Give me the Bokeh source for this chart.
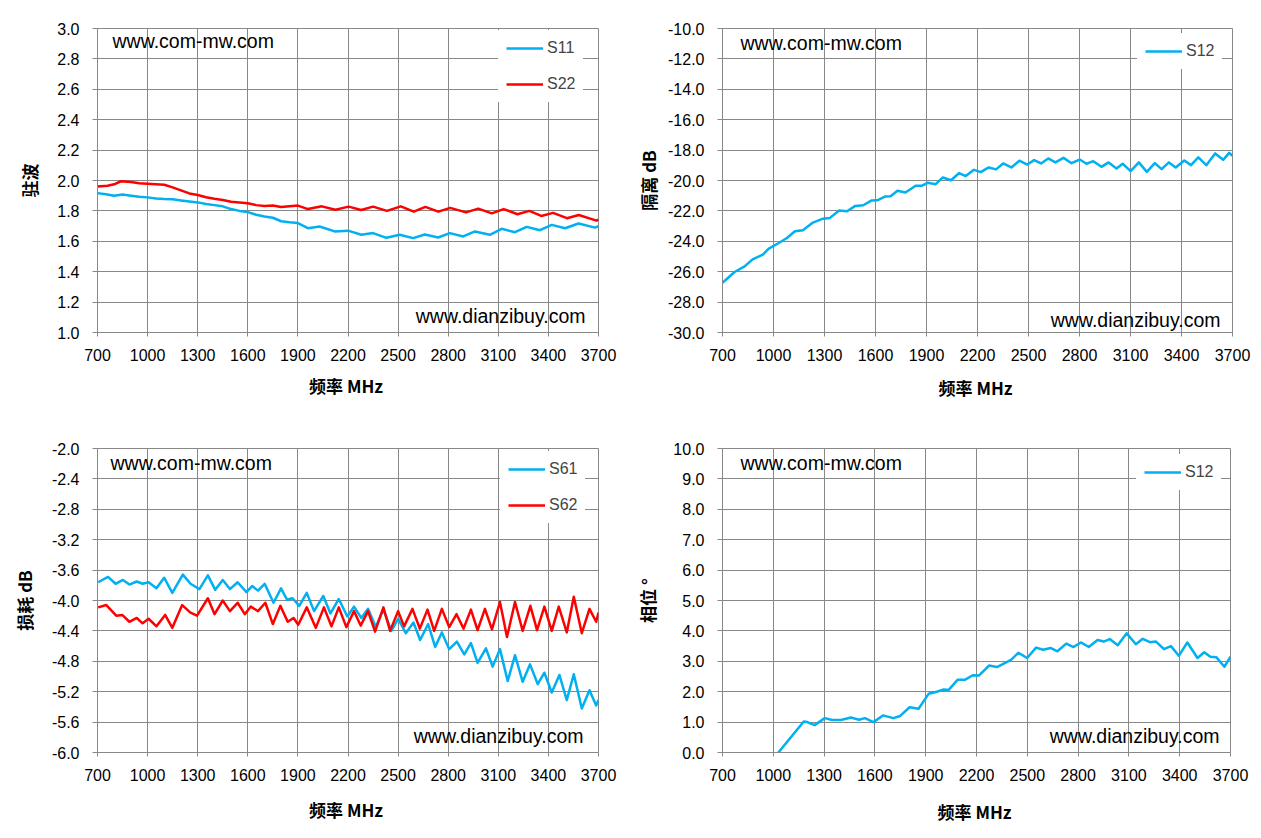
from bokeh.plotting import figure
from bokeh.layouts import column, row
from bokeh.models import Range1d, FixedTicker, NumeralTickFormatter, Label
from bokeh.embed import file_html
from bokeh.resources import INLINE

# frequency ticks (MHz)
freq_ticks = [700, 1000, 1300, 1600, 1900, 2200, 2500, 2800, 3100, 3400, 3700]

# VSWR
s11_mhz = [700, 750, 800, 850, 900, 950, 1000, 1050, 1100, 1150, 1200, 1250, 1300, 1350, 1400,
           1450, 1500, 1550, 1600, 1650, 1700, 1750, 1800, 1850, 1900, 1960, 2030, 2120, 2200,
           2280, 2350, 2430, 2510, 2590, 2660, 2740, 2810, 2890, 2960, 3050, 3120, 3200, 3270,
           3350, 3420, 3500, 3580, 3680, 3700]
s11 = [1.917, 1.91, 1.90, 1.908, 1.90, 1.893, 1.889, 1.882, 1.878, 1.876, 1.869, 1.862, 1.856,
       1.846, 1.838, 1.83, 1.812, 1.80, 1.792, 1.775, 1.763, 1.755, 1.732, 1.725, 1.72, 1.686,
       1.697, 1.665, 1.67, 1.643, 1.654, 1.623, 1.643, 1.621, 1.645, 1.625, 1.654, 1.632, 1.665,
       1.643, 1.682, 1.66, 1.695, 1.673, 1.708, 1.686, 1.717, 1.69, 1.70]
s22_mhz = [700, 760, 800, 840, 900, 950, 1000, 1050, 1100, 1150, 1200, 1250, 1300, 1350, 1400,
           1450, 1500, 1550, 1600, 1650, 1700, 1750, 1800, 1850, 1900, 1960, 2043, 2125, 2204,
           2279, 2350, 2433, 2516, 2594, 2663, 2741, 2812, 2907, 2980, 3061, 3132, 3215, 3286,
           3357, 3428, 3511, 3582, 3688, 3700]
s22 = [1.96, 1.965, 1.975, 1.995, 1.99, 1.982, 1.978, 1.975, 1.972, 1.955, 1.935, 1.915, 1.905,
       1.89, 1.88, 1.872, 1.86, 1.855, 1.85, 1.838, 1.833, 1.835, 1.825, 1.83, 1.835, 1.812,
       1.83, 1.808, 1.828, 1.806, 1.828, 1.80, 1.83, 1.795, 1.826, 1.795, 1.82, 1.79, 1.815,
       1.784, 1.812, 1.778, 1.80, 1.767, 1.787, 1.752, 1.773, 1.736, 1.743]

# isolation S12 (dB)
iso_mhz = [700, 771, 830, 877, 937, 972, 1031, 1079, 1126, 1173, 1232, 1291, 1332, 1386, 1433,
           1481, 1528, 1575, 1611, 1658, 1689, 1729, 1776, 1836, 1871, 1907, 1954, 1996, 2044,
           2091, 2131, 2179, 2219, 2266, 2309, 2351, 2399, 2446, 2493, 2533, 2574, 2616, 2658,
           2706, 2753, 2801, 2841, 2881, 2929, 2971, 3018, 3054, 3101, 3149, 3196, 3243, 3283,
           3326, 3366, 3416, 3456, 3499, 3546, 3598, 3645, 3681, 3700]
iso = [-26.73, -26.02, -25.65, -25.19, -24.88, -24.48, -24.11, -23.78, -23.34, -23.27, -22.77,
       -22.51, -22.46, -21.98, -22.02, -21.67, -21.63, -21.32, -21.30, -21.05, -21.03, -20.68,
       -20.79, -20.35, -20.35, -20.15, -20.24, -19.80, -19.98, -19.52, -19.71, -19.30, -19.45,
       -19.14, -19.27, -18.88, -19.14, -18.70, -18.95, -18.66, -18.88, -18.55, -18.81, -18.51,
       -18.86, -18.62, -18.90, -18.73, -19.10, -18.81, -19.21, -18.90, -19.38, -18.81, -19.43,
       -18.86, -19.25, -18.81, -19.14, -18.68, -18.99, -18.48, -18.99, -18.22, -18.64, -18.18,
       -18.37]

# insertion loss (dB)
s61_mhz = [704, 763, 808, 852, 891, 935, 970, 1006, 1053, 1099, 1148, 1211, 1257, 1310, 1361,
           1405, 1450, 1493, 1539, 1592, 1626, 1661, 1701, 1754, 1799, 1835, 1868, 1908, 1953,
           1997, 2052, 2095, 2145, 2196, 2236, 2280, 2320, 2366, 2412, 2460, 2500, 2546, 2592,
           2632, 2680, 2722, 2762, 2806, 2852, 2896, 2936, 2976, 3026, 3066, 3110, 3156, 3200,
           3246, 3290, 3336, 3376, 3420, 3466, 3510, 3552, 3600, 3646, 3686, 3700]
s61 = [-3.76, -3.69, -3.78, -3.73, -3.79, -3.75, -3.78, -3.76, -3.84, -3.70, -3.90, -3.66,
       -3.78, -3.85, -3.67, -3.86, -3.73, -3.85, -3.76, -3.89, -3.81, -3.87, -3.78, -4.03,
       -3.84, -3.99, -3.97, -4.07, -3.90, -4.14, -3.94, -4.17, -3.98, -4.21, -4.08, -4.23,
       -4.11, -4.35, -4.12, -4.40, -4.24, -4.43, -4.29, -4.52, -4.31, -4.61, -4.42, -4.64,
       -4.54, -4.71, -4.56, -4.82, -4.63, -4.87, -4.64, -5.06, -4.72, -5.07, -4.84, -5.10,
       -4.95, -5.21, -4.98, -5.31, -4.97, -5.42, -5.18, -5.38, -5.31]
s62_mhz = [704, 753, 812, 848, 891, 935, 970, 1006, 1053, 1105, 1148, 1207, 1257, 1296, 1361,
           1401, 1450, 1493, 1539, 1582, 1618, 1661, 1705, 1750, 1795, 1839, 1874, 1902, 1953,
           2007, 2056, 2101, 2145, 2190, 2236, 2276, 2320, 2362, 2412, 2452, 2500, 2536, 2586,
           2630, 2676, 2716, 2762, 2806, 2850, 2892, 2936, 2976, 3020, 3062, 3110, 3152, 3200,
           3246, 3292, 3332, 3376, 3420, 3462, 3510, 3552, 3600, 3646, 3686, 3700]
s62 = [-4.09, -4.06, -4.20, -4.19, -4.28, -4.23, -4.30, -4.24, -4.34, -4.19, -4.36, -4.06,
       -4.16, -4.20, -3.97, -4.18, -4.00, -4.14, -4.03, -4.18, -4.08, -4.14, -4.03, -4.31,
       -4.07, -4.28, -4.23, -4.32, -4.09, -4.36, -4.09, -4.34, -4.09, -4.35, -4.14, -4.33,
       -4.14, -4.41, -4.09, -4.40, -4.14, -4.34, -4.11, -4.37, -4.12, -4.40, -4.11, -4.35,
       -4.18, -4.37, -4.12, -4.39, -4.11, -4.38, -4.02, -4.48, -4.02, -4.40, -4.07, -4.39,
       -4.08, -4.40, -4.08, -4.42, -3.95, -4.43, -4.11, -4.28, -4.16]

# phase S12 (deg)
ph_mhz = [1030, 1180, 1200, 1244, 1304, 1347, 1400, 1458, 1506, 1541, 1591, 1648, 1708, 1746,
          1805, 1858, 1917, 1965, 2007, 2036, 2088, 2131, 2178, 2214, 2274, 2321, 2381, 2404,
          2447, 2499, 2552, 2594, 2637, 2678, 2730, 2773, 2816, 2863, 2915, 2951, 2987, 3034,
          3087, 3141, 3182, 3224, 3260, 3307, 3348, 3395, 3445, 3505, 3545, 3581, 3617, 3664,
          3700]
ph = [0.0, 1.02, 1.0, 0.9, 1.13, 1.07, 1.07, 1.15, 1.08, 1.13, 1.0, 1.22, 1.13, 1.19, 1.49,
      1.44, 1.93, 2.0, 2.07, 2.06, 2.39, 2.39, 2.54, 2.53, 2.86, 2.81, 2.98, 3.05, 3.28, 3.11,
      3.45, 3.38, 3.44, 3.33, 3.58, 3.47, 3.62, 3.47, 3.70, 3.65, 3.73, 3.53, 3.92, 3.56, 3.74,
      3.63, 3.65, 3.40, 3.50, 3.18, 3.62, 3.11, 3.30, 3.15, 3.13, 2.82, 3.15]

BLUE = "#00B0F0"
RED = "#FF0000"
GRID = "#888888"
FONT = "Liberation Sans"
CJK = "Noto Sans CJK SC"


def make_panel(fw, fh, bl, br, bt, bb, ylo, yhi, ystep, ytitle, ylab_standoff, xlab_standoff):
    p = figure(width=bl + fw + br, height=bt + fh + bb,
               min_border_left=bl, min_border_right=br,
               min_border_top=bt, min_border_bottom=bb,
               x_range=Range1d(700, 3700), y_range=Range1d(ylo, yhi),
               output_backend="svg", toolbar_location=None,
               x_axis_label="频率  MHz", y_axis_label=ytitle)
    p.outline_line_color = GRID
    p.background_fill_color = "white"
    p.border_fill_color = "white"

    yt = [round(ylo + i * ystep, 2) for i in range(int(round((yhi - ylo) / ystep)) + 1)]
    p.xaxis.ticker = FixedTicker(ticks=freq_ticks)
    p.yaxis.ticker = FixedTicker(ticks=yt)
    p.yaxis.formatter = NumeralTickFormatter(format="0.0")
    p.xaxis.formatter = NumeralTickFormatter(format="0")

    for ax in (p.xaxis[0], p.yaxis[0]):
        ax.axis_line_color = GRID
        ax.major_tick_line_color = GRID
        ax.minor_tick_line_color = None
        ax.major_tick_in = 0
        ax.major_label_text_font = FONT
        ax.major_label_text_font_size = "16px"
        ax.major_label_text_color = "black"
        ax.axis_label_text_font = CJK
        ax.axis_label_text_font_style = "bold"
        ax.axis_label_text_font_size = "17px"
        ax.axis_label_text_color = "black"
    p.xaxis.major_tick_out = 4
    p.xaxis.major_label_standoff = 12
    p.xaxis.axis_label_standoff = xlab_standoff
    p.yaxis.major_tick_out = 5
    p.yaxis.major_label_standoff = 13
    p.yaxis.axis_label_standoff = ylab_standoff

    p.grid.grid_line_color = GRID
    p.grid.grid_line_width = 1
    return p


def watermarks(p, top_y, bot_y, left_x, right_x):
    p.add_layout(Label(x=left_x, y=top_y, x_units="screen", y_units="screen",
                       text="www.com-mw.com", text_font=FONT, text_font_size="19.5px",
                       text_color="black", text_baseline="middle"))
    p.add_layout(Label(x=right_x, y=bot_y, x_units="screen", y_units="screen",
                       text="www.dianzibuy.com", text_font=FONT, text_font_size="19.5px",
                       text_color="black", text_baseline="middle", text_align="right"))


def style_legend(p, loc):
    lg = p.legend[0]
    lg.location = loc
    lg.margin = 0
    lg.padding = 8
    lg.spacing = 16
    lg.glyph_width = 37
    lg.glyph_height = 20
    lg.label_standoff = 4
    lg.label_text_font = FONT
    lg.label_text_font_size = "16px"
    lg.border_line_alpha = 0
    lg.background_fill_alpha = 1


# top left: VSWR
p1 = make_panel(501, 304, 97, 30, 28, 86, 1.0, 3.0, 0.2, "驻波", 12, 9)
p1.line(s11_mhz, s11, line_color=BLUE, line_width=2.5, line_join="round", legend_label="S11")
p1.line(s22_mhz, s22, line_color=RED, line_width=2.5, line_join="round", legend_label="S22")
style_legend(p1, (401, 230))
watermarks(p1, 292, 17, 15, 488)

# top right: isolation
p2 = make_panel(510, 304, 94, 24, 28, 86, -30.0, -10.0, 2.0, "隔离 dB", 4, 11)
p2.line(iso_mhz, iso, line_color=BLUE, line_width=2.5, line_join="round", legend_label="S12")
style_legend(p2, (415, 263))
watermarks(p2, 290, 13, 18, 498)

# bottom left: insertion loss
p3 = make_panel(501, 304, 97, 30, 30, 76, -6.0, -2.0, 0.4, "损耗 dB", 12, 13)
p3.line(s61_mhz, s61, line_color=BLUE, line_width=2.5, line_join="round", legend_label="S61")
p3.line(s62_mhz, s62, line_color=RED, line_width=2.5, line_join="round", legend_label="S62")
style_legend(p3, (403, 229))
watermarks(p3, 290, 17, 13, 486)

# bottom right: phase
p4 = make_panel(508, 304, 94, 26, 30, 76, 0.0, 10.0, 1.0, "相位 °", 10, 15)
p4.line(ph_mhz, ph, line_color=BLUE, line_width=2.5, line_join="round", legend_label="S12")
style_legend(p4, (414, 262))
watermarks(p4, 290, 17, 18, 497)

layout = column(row(p1, p2), row(p3, p4))

open("out.html", "w").write(file_html(layout, INLINE))
